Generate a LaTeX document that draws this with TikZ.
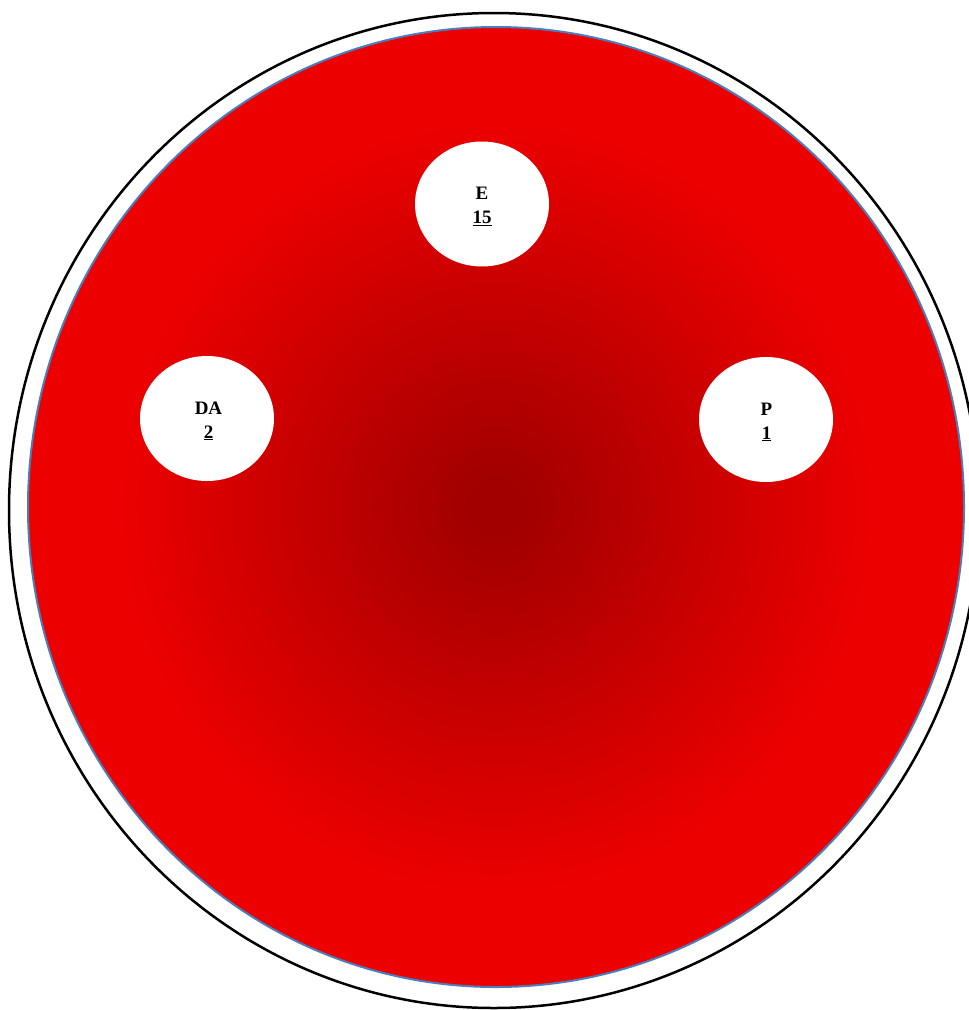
\documentclass[tikz,border=0pt]{standalone}
\usepackage{fontspec}
\setmainfont{Liberation Serif}
\usetikzlibrary{shapes.geometric}
\definecolor{ringred}{RGB}{236,0,0}
\definecolor{darkcore}{RGB}{162,0,0}
\definecolor{rimblue}{RGB}{74,126,187}
\pgfdeclareradialshading{redglow}{\pgfpoint{0bp}{0bp}}{color(0bp)=(darkcore); color(1.5bp)=(darkcore); color(20bp)=(ringred); color(50bp)=(ringred)}
\begin{document}
\begin{tikzpicture}[x=1pt,y=-1pt,
  hole/.style={ellipse, fill=white, draw=none, minimum width=134pt, minimum height=125pt, inner sep=0pt},
  holetext/.style={inner sep=0pt, align=center, font=\fontsize{19}{24}\selectfont\bfseries}]
\useasboundingbox (0,0) rectangle (969,1010);
\clip (0,0) rectangle (969,1010);
\draw[line width=2.5pt] (494,510.5) ellipse [x radius=485, y radius=497.5];
\shade[shading=redglow, draw=rimblue, line width=2pt] (496,507) ellipse [x radius=468, y radius=480];
\node[hole] (E) at (482,204) {};
\node[hole] (DA) at (207,418.5) {};
\node[hole] (P) at (766,419.5) {};
\node[holetext] (Et) at ([yshift=-2.5pt]E.center) {E\\\underline{15}};
\node[holetext] (DAt) at ([yshift=-2.5pt,xshift=1.5pt]DA.center) {DA\\\underline{2}};
\node[holetext] (Pt) at ([yshift=-2.5pt,xshift=0.5pt]P.center) {P\\\underline{1}};
\end{tikzpicture}
\end{document}
